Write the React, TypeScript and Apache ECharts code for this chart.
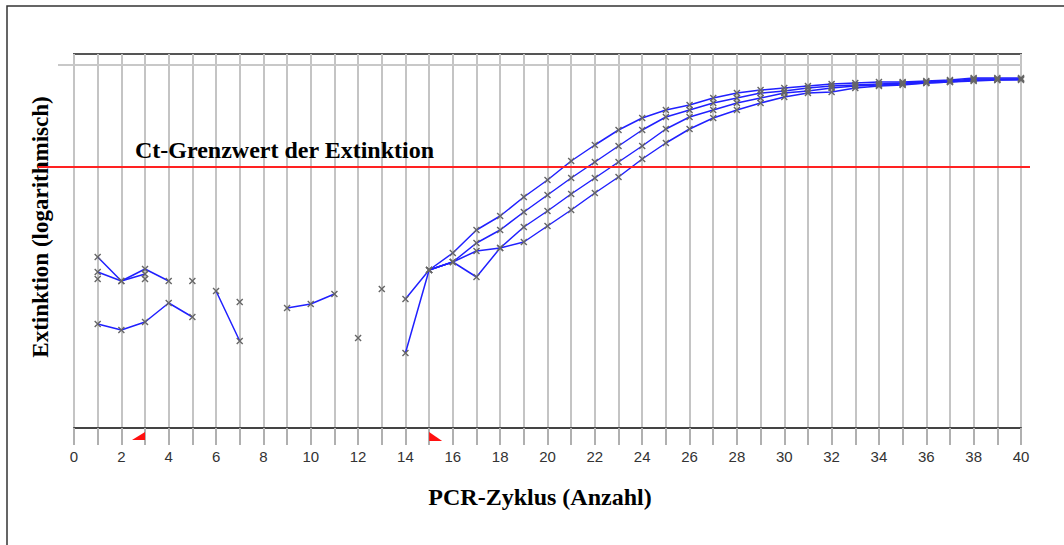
import React, { useEffect, useRef } from "react";
import * as echarts from "echarts";

// PCR cycles (x axis)
const cycles = [
  1, 2, 3, 4, 5, 6, 7, 8, 9, 10, 11, 12, 13, 14, 15, 16, 17, 18, 19, 20,
  21, 22, 23, 24, 25, 26, 27, 28, 29, 30, 31, 32, 33, 34, 35, 36, 37, 38, 39, 40,
];

// Extinction readings (logarithmic, arbitrary units; null = no valid value)
const sample1 = [
  171, 147, 159, 147, null, 137, 87, null, 120, 124, 134, null, null, 129,
  158, 175, 198, 212, 231, 248, 267, 283, 298, 310, 318, 323, 330, 335, 338, 340,
  342, 344, 345, 346, 346, 347, 348, 350, 350, 350,
];
const sample2 = [
  156, 147, 154, null, 147, null, 126, null, null, null, null, 90, null, 75,
  158, 166, 185, 198, 216, 233, 250, 266, 282, 298, 311, 318, 325, 330, 335, 337,
  340, 342, 343, 344, 345, 346, 347, 349, 349, 349,
];
const sample3 = [
  104, 98, 106, 125, 111, null, null, null, null, null, null, null, 139, null,
  158, 166, 177, 180, 201, 217, 234, 250, 266, 282, 299, 311, 318, 325, 330, 335,
  337, 340, 342, 343, 344, 345, 346, 348, 348, 349,
];
const sample4 = [
  149, null, 149, null, null, null, null, null, null, null, null, null, null, null,
  158, 166, 151, 180, 186, 202, 218, 235, 251, 269, 285, 299, 310, 318, 325, 331,
  335, 336, 340, 342, 343, 345, 346, 347, 348, 348,
];
const samples = [sample1, sample2, sample3, sample4];

const threshold = 261; // Ct threshold of extinction
const topGridValue = 363;
const yMax = 374;
const xMin = 0;
const xMax = 40;
const baselineStart = 3;
const baselineEnd = 15;

const thresholdLabel = "Ct-Grenzwert der Extinktion";
const xName = "PCR-Zyklus (Anzahl)";
const yName = "Extinktion (logarithmisch)";

const CROSS = "path://M0,0L10,10M0,10L10,0";

export default function App() {
  const ref = useRef<HTMLDivElement>(null);
  useEffect(() => {
    document.body.style.margin = "0";
    const chart = echarts.init(ref.current!, undefined, { renderer: "svg" });
    const series = samples.map((s) => ({
      type: "line",
      data: cycles.map((c, i) => [c, s[i]]),
      connectNulls: false,
      showSymbol: true,
      showAllSymbol: true,
      symbol: CROSS,
      symbolSize: 6,
      itemStyle: { color: "#777", borderColor: "#666", borderWidth: 1.4 },
      lineStyle: { color: "#2020ff", width: 1.5 },
      emphasis: { disabled: true },
      z: 3,
    }));
    chart.setOption({
      animation: false,
      backgroundColor: "#fff",
      grid: {
        left: 74,
        right: 43,
        top: 54,
        bottom: 117,
        show: true,
        borderColor: "#555",
        borderWidth: 2,
      },
      xAxis: {
        type: "value",
        min: xMin,
        max: xMax,
        interval: 1,
        axisLine: { lineStyle: { color: "#444", width: 2 } },
        axisTick: { length: 17, lineStyle: { color: "#b0b0b0", width: 2 } },
        axisLabel: {
          margin: 21,
          fontSize: 15,
          fontFamily: "Liberation Sans",
          color: "#333",
          formatter: (v: number) => (v % 2 === 0 ? String(v) : ""),
        },
        splitLine: { show: true, lineStyle: { color: "#c4c4c4", width: 2 } },
      },
      yAxis: {
        type: "value",
        min: 0,
        max: yMax,
        axisLine: { show: false },
        axisTick: { show: false },
        axisLabel: { show: false },
        splitLine: { show: false },
      },
      series,
    });

    const yThr = chart.convertToPixel({ gridIndex: 0 }, [xMin, threshold])[1];
    const yTop = chart.convertToPixel({ gridIndex: 0 }, [xMin, topGridValue])[1];
    const right = chart.convertToPixel({ gridIndex: 0 }, [xMax, 0]);
    const bs = chart.convertToPixel({ gridIndex: 0 }, [baselineStart, 0]);
    const be = chart.convertToPixel({ gridIndex: 0 }, [baselineEnd, 0]);
    const axisY = right[1];

    chart.setOption({
      graphic: [
        {
          type: "rect",
          shape: { x: 7, y: 6, width: 1080, height: 600 },
          style: { fill: "none", stroke: "#333", lineWidth: 1.5 },
          silent: true,
        },
        {
          type: "line",
          shape: { x1: 58, y1: yTop, x2: right[0], y2: yTop },
          style: { stroke: "#c8c8c8", lineWidth: 2 },
          z: 1,
          silent: true,
        },
        {
          type: "line",
          shape: { x1: 38, y1: yThr, x2: 1030, y2: yThr },
          style: { stroke: "#ff2222", lineWidth: 2 },
          z: 10,
          silent: true,
        },
        {
          type: "text",
          x: 135,
          y: yThr - 17,
          style: {
            text: thresholdLabel,
            font: "bold 24px 'Liberation Serif'",
            fill: "#000",
            verticalAlign: "middle",
            align: "left",
          },
          z: 10,
        },
        {
          type: "text",
          x: 540,
          y: 497,
          style: {
            text: xName,
            font: "bold 24px 'Liberation Serif'",
            fill: "#000",
            verticalAlign: "middle",
            align: "center",
          },
        },
        {
          type: "text",
          x: 40,
          y: 227,
          rotation: Math.PI / 2,
          style: {
            text: yName,
            font: "bold 23px 'Liberation Serif'",
            fill: "#000",
            verticalAlign: "middle",
            align: "center",
          },
        },
        {
          type: "polygon",
          shape: {
            points: [
              [bs[0] - 13, axisY + 12],
              [bs[0], axisY + 12],
              [bs[0], axisY + 4],
            ],
          },
          style: { fill: "#ff1010" },
          z: 10,
        },
        {
          type: "polygon",
          shape: {
            points: [
              [be[0], axisY + 4],
              [be[0], axisY + 13],
              [be[0] + 13, axisY + 13],
            ],
          },
          style: { fill: "#ff1010" },
          z: 10,
        },
      ],
    });

    return () => chart.dispose();
  }, []);
  return (
    <div
      ref={ref}
      style={{ position: "absolute", left: 0, top: 0, width: 1064, height: 545 }}
    />
  );
}
